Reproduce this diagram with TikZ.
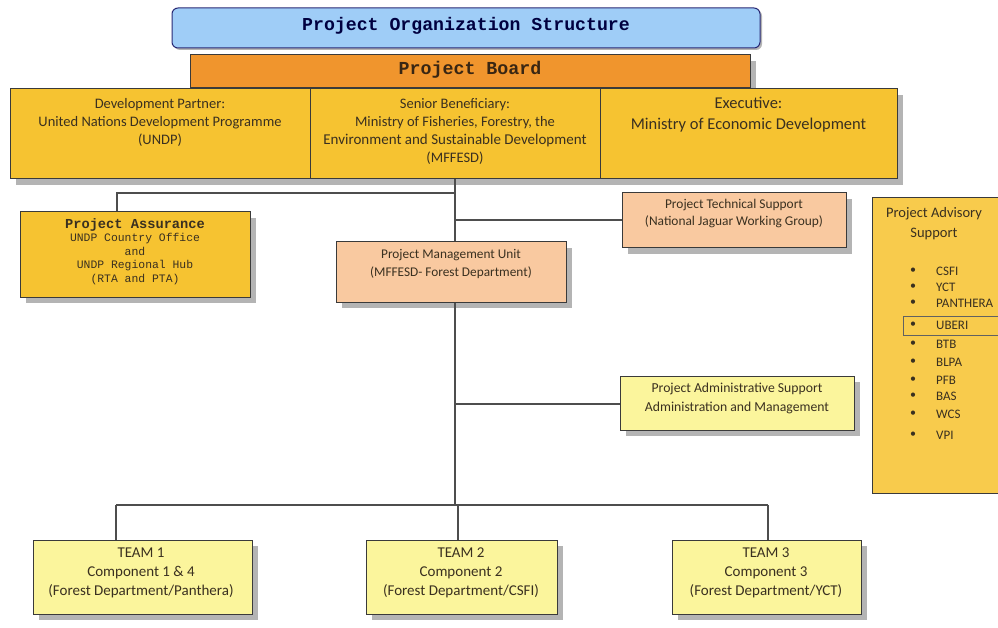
\documentclass[tikz,border=0pt]{standalone}
\usepackage{fontspec}
\setmainfont{Carlito}
\newfontfamily\mono{Liberation Mono}
\usetikzlibrary{shadows}
\definecolor{titleblue}{HTML}{9FCDF7}
\definecolor{boardorange}{HTML}{F0952D}
\definecolor{gold}{HTML}{F6C331}
\definecolor{advgold}{HTML}{F8CB4C}
\definecolor{peach}{HTML}{F9C9A0}
\definecolor{paleyellow}{HTML}{FBF59C}
\definecolor{edge}{HTML}{3A3A3A}
\definecolor{txt}{HTML}{3A3020}
\definecolor{shade}{HTML}{B4B4B4}
\tikzset{
  box/.style={draw=edge, line width=1pt, inner sep=0pt,
    drop shadow={shadow xshift=6pt, shadow yshift=-6pt, fill=shade, opacity=1}},
  flatbox/.style={draw=edge, line width=1pt, inner sep=0pt},
  label text/.style={align=center, inner sep=0pt, text=txt, font=\fontsize{14.5}{18}\selectfont},
  wire/.style={draw=edge!90, line width=1.1pt},
}
\begin{document}
\begin{tikzpicture}[x=1pt,y=-1pt]
\useasboundingbox (0,0) rectangle (998,628);
\clip (0,0) rectangle (998,628);
\fill[white] (0,0) rectangle (998,628);

% Title
\node[draw=edge!70!blue, line width=1pt, rounded corners=6pt, fill=titleblue, minimum width=588pt, minimum height=40pt, inner sep=0pt,
  drop shadow={shadow xshift=2pt, shadow yshift=-2pt, fill=shade, opacity=1}] (title) at (466,28) {};
\node[text=black!75!blue, font=\mono\bfseries\fontsize{18.2}{20}\selectfont, inner sep=0pt] (titleT) at (466,26) {Project Organization Structure};

% Project board
\node[box, fill=boardorange, minimum width=560pt, minimum height=33pt] (board) at (470,71.5) {};
\node[text=black!70!brown, font=\mono\bfseries\fontsize{18.3}{20}\selectfont, inner sep=0pt] (boardT) at (470,70) {Project Board};

% Row of three
\node[box, fill=gold, minimum width=300pt, minimum height=90pt] (dev) at (160,134) {};
\node[box, fill=gold, minimum width=290pt, minimum height=90pt] (sen) at (455,134) {};
\node[box, fill=gold, minimum width=297pt, minimum height=90pt] (exe) at (748.5,134) {};
\node[label text, anchor=north] (devT) at (160,98) {Development Partner:\\United Nations Development Programme\\(UNDP)};
\node[label text, anchor=north] (senT) at (455,98) {Senior Beneficiary:\\Ministry of Fisheries, Forestry, the\\{\fontsize{15}{18}\selectfont Environment and Sustainable Development}\\(MFFESD)};
\node[label text, anchor=north, font=\fontsize{16.5}{21}\selectfont] (exeT) at (748.5,97) {Executive:\\Ministry of Economic Development};

% Project Assurance
\node[box, fill=gold, minimum width=230pt, minimum height=85pt] (assur) at (135,254.5) {};
\node[align=center, inner sep=0pt, text=txt, anchor=north, font=\mono\fontsize{11.4}{13.5}\selectfont] (assurT) at (135,218)
  {{\bfseries\fontsize{13.7}{17}\selectfont Project Assurance}\\UNDP Country Office\\and\\UNDP Regional Hub\\(RTA and PTA)};

% Technical support
\node[box, fill=peach, minimum width=224pt, minimum height=55pt] (tech) at (734,220.5) {};
\node[label text, anchor=north, font=\fontsize{13.4}{17}\selectfont] (techT) at (734,199) {Project Technical Support\\(National Jaguar Working Group)};

% PMU
\node[box, fill=peach, minimum width=230pt, minimum height=60pt] (pmu) at (451,272) {};
\node[label text, anchor=north, font=\fontsize{13.3}{18}\selectfont] (pmuT) at (451,249) {Project Management Unit\\(MFFESD- Forest Department)};

% Admin support
\node[box, fill=paleyellow, minimum width=234pt, minimum height=54pt] (admin) at (737,403) {};
\node[label text, anchor=north, font=\fontsize{13.7}{19}\selectfont] (adminT) at (737,383) {Project Administrative Support\\Administration and Management};

% Advisory support
\node[flatbox, fill=advgold, minimum width=133pt, minimum height=295pt] (adv) at (938.5,345.5) {};
\node[label text, anchor=north, font=\fontsize{14.5}{20}\selectfont] (advT) at (934,207) {Project Advisory\\Support};
\node[flatbox, draw=edge!80, line width=0.9pt, minimum width=100pt, minimum height=19pt, anchor=west] (uberibox) at (903,325.5) {};
\foreach \n/\t/\y in {a/CSFI/271, b/YCT/287, c/PANTHERA/303, d/UBERI/325, e/BTB/344, f/BLPA/362, g/PFB/380, h/BAS/396, i/WCS/414, j/VPI/435}{
  \node[inner sep=0pt, text=txt, font=\fontsize{12}{13}\selectfont] (bul\n) at (913,\y) {•};
  \node[inner sep=0pt, text=txt, anchor=west, font=\fontsize{13}{14}\selectfont] (item\n) at (936,\y) {\t};
}

% Teams
\node[box, fill=paleyellow, minimum width=219pt, minimum height=74pt] (team1) at (142.5,577) {};
\node[box, fill=paleyellow, minimum width=191pt, minimum height=74pt] (team2) at (461.5,577) {};
\node[box, fill=paleyellow, minimum width=189pt, minimum height=74pt] (team3) at (766.5,577) {};
\node[label text, anchor=north, font=\fontsize{15}{19}\selectfont] (team1T) at (141,548) {TEAM 1\\Component 1 \& 4\\(Forest Department/Panthera)};
\node[label text, anchor=north, font=\fontsize{15}{19}\selectfont] (team2T) at (461,548) {TEAM 2\\Component 2\\(Forest Department/CSFI)};
\node[label text, anchor=north, font=\fontsize{15}{19}\selectfont] (team3T) at (766,548) {TEAM 3\\Component 3\\(Forest Department/YCT)};

% Connectors
\coordinate (jA) at (455,193);
\coordinate (jT) at (455,220);
\coordinate (jAd) at (455,404);
\coordinate (bus) at (455,505);
\coordinate (b1) at (116,505);
\coordinate (b2) at (458,505);
\coordinate (b3) at (768,505);
\draw[wire] (sen.south) -- (sen.south |- pmu.north);
\draw[wire] (jA) -- (jA -| 117,0) -- (117,0 |- assur.north);
\draw[wire] (jT) -- (tech.west |- jT);
\draw[wire] (pmu.south -| jA) -- (bus);
\draw[wire] (jAd) -- (admin.west |- jAd);
\draw[wire] (b1) -- (b3);
\draw[wire] (b1) -- (b1 |- team1.north);
\draw[wire] (b2) -- (b2 |- team2.north);
\draw[wire] (b3) -- (b3 |- team3.north);
\end{tikzpicture}
\end{document}
